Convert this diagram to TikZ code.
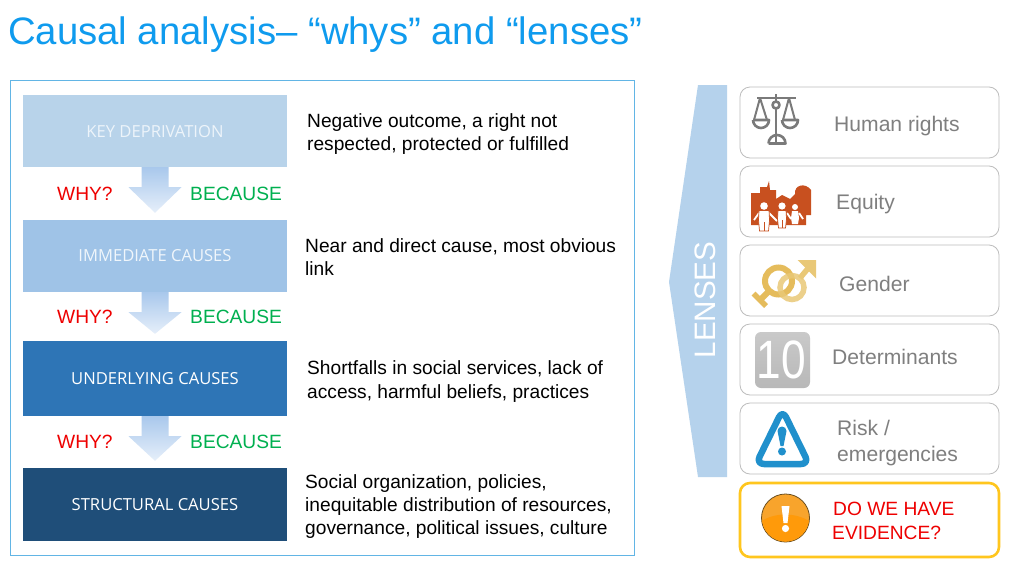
\documentclass[tikz,border=0pt]{standalone}
\usepackage{fontspec}
\setmainfont{Liberation Sans}
\newfontfamily\boxfont{Open Sans}
\usetikzlibrary{calc,shadings}
\definecolor{titleblue}{HTML}{0F9BEE}
\definecolor{framecol}{HTML}{62B5E5}
\definecolor{lensblue}{HTML}{B5D2EC}
\definecolor{cardline}{HTML}{BDBDBD}
\definecolor{greytext}{HTML}{7F7F7F}
\definecolor{whyred}{HTML}{EE0000}
\definecolor{becgreen}{HTML}{00B050}
\definecolor{scalegrey}{HTML}{7A7A7A}
\definecolor{equity}{HTML}{C8501F}
\definecolor{gold}{HTML}{E5BC5C}
\definecolor{goldlight}{HTML}{E9C877}
\definecolor{riskblue}{HTML}{2090CC}
\definecolor{arrowtop}{HTML}{A9C8EC}
\definecolor{arrowbot}{HTML}{E6EFFA}
\definecolor{boxa}{HTML}{B8D3EA}
\definecolor{boxb}{HTML}{9FC3E7}
\definecolor{boxc}{HTML}{2E75B6}
\definecolor{boxd}{HTML}{1F4E79}
\definecolor{boxatext}{HTML}{EDF4FA}
\definecolor{boxbtext}{HTML}{F0F6FB}
\definecolor{evidline}{HTML}{FFC61E}
\definecolor{tentop}{HTML}{C9C9C9}
\definecolor{tenbot}{HTML}{B8B8B8}
\definecolor{orangeline}{HTML}{6B4E1E}
\definecolor{orangetop}{HTML}{F8A42C}
\definecolor{orangebot}{HTML}{FF9A0A}
\tikzset{
  x=1pt,y=-1pt,
  causebox/.style={minimum width=264pt,inner sep=0pt,text=white,font=\boxfont\fontsize{16.6}{18}\selectfont},
  desc/.style={anchor=west,inner sep=0pt,align=left,text=black,font=\fontsize{19.15}{23.3}\selectfont},
  whylab/.style={anchor=base west,inner sep=0pt,text=whyred,font=\fontsize{19.2}{23}\selectfont},
  beclab/.style={anchor=base west,inner sep=0pt,text=becgreen,font=\fontsize{19.2}{23}\selectfont},
  card/.style={draw=cardline,line width=.8pt,rounded corners=10pt,fill=white,minimum width=259pt,minimum height=71pt,inner sep=0pt},
  lenstext/.style={anchor=west,inner sep=0pt,align=left,text=greytext,font=\fontsize{21.1}{26}\selectfont},
  scaleline/.style={draw=scalegrey,line width=2.6pt,line join=round},
  goldline/.style={draw=gold,line width=6pt},
  figure/.style={fill=white,draw=equity,line width=.7pt},
}
\newcommand{\blockarr}[2]{%
  \path[shade,top color=arrowtop,bottom color=arrowbot]
    ($(#1.south)+(-13.5,0)$) -- ($(#1.south)+(13.5,0)$) -- ($(#1.south)+(13.5,20)$)
    -- ($(#1.south)+(26.5,20)$) -- ($(#2.north)+(0,-7)$) -- ($(#1.south)+(-26.5,20)$)
    -- ($(#1.south)+(-13.5,20)$) -- cycle;}
\begin{document}
\begin{tikzpicture}
\useasboundingbox (0,0) rectangle (1024,576);
\fill[white] (0,0) rectangle (1024,576);
\node[anchor=base west,inner sep=0pt,text=titleblue,font=\fontsize{38.3}{40}\selectfont] (title) at (8,44) {Causal analysis– “whys” and “lenses”};
\node[draw=framecol,line width=1pt,minimum width=624pt,minimum height=475pt,inner sep=0pt] (frame) at (322,317.5) {};
% cause boxes
\node[causebox,fill=boxa,text=boxatext,minimum height=72pt,text depth=0pt] (key) at (155,131) {\raisebox{-1pt}{KEY DEPRIVATION}};
\node[causebox,fill=boxb,text=boxbtext,minimum height=72pt] (imm) at (155,256) {\raisebox{-1pt}{IMMEDIATE CAUSES}};
\node[causebox,fill=boxc,minimum height=75pt] (und) at (155,378.5) {\raisebox{-1pt}{UNDERLYING CAUSES}};
\node[causebox,fill=boxd,minimum height=73pt] (str) at (155,504.5) {\raisebox{-1pt}{STRUCTURAL CAUSES}};
\blockarr{key}{imm}
\blockarr{imm}{und}
\blockarr{und}{str}
% why / because
\node[whylab] (w1) at (57,200) {WHY?};
\node[beclab] (b1) at (190,200) {BECAUSE};
\node[whylab] (w2) at (57,323) {WHY?};
\node[beclab] (b2) at (190,323) {BECAUSE};
\node[whylab] (w3) at (57,448) {WHY?};
\node[beclab] (b3) at (190,448) {BECAUSE};
% descriptions
\node[desc] (d1) at (307,134) {Negative outcome, a right not\\respected, protected or fulfilled};
\node[desc] (d2) at (305,257) {Near and direct cause, most obvious\\link};
\node[desc] (d3) at (307,381.5) {Shortfalls in social services, lack of\\access, harmful beliefs, practices};
\node[desc] (d4) at (305,506.5) {Social organization, policies,\\inequitable distribution of resources,\\governance, political issues, culture};
% lenses arrow
\path[fill=lensblue] (698,85) -- (727,85) -- (727,477) -- (698,477) -- (669,282) -- cycle;
\node[rotate=90,inner sep=0pt,text=white,font=\fontsize{29.6}{32}\selectfont] (lenses) at (705.5,300) {LENSES};
% cards
\node[card] (c1) at (869.5,122.5) {};
\node[card] (c2) at (869.5,201.5) {};
\node[card] (c3) at (869.5,280.5) {};
\node[card] (c4) at (869.5,359.5) {};
\node[card] (c5) at (869.5,438.5) {};
\node[card,draw=evidline,line width=2.6pt,minimum height=74pt] (c6) at (869.5,520) {};
\node[lenstext] (t1) at (834,126) {Human rights};
\node[lenstext] (t2) at (836,204) {Equity};
\node[lenstext] (t3) at (839,284) {Gender};
\node[lenstext] (t4) at (832,357) {Determinants};
\node[lenstext] (t5) at (837,443) {Risk /\\emergencies};
\node[anchor=west,inner sep=0pt,align=left,text=whyred,font=\fontsize{19.2}{23.5}\selectfont] (t6) at (832,521) {\hspace*{1pt}DO WE HAVE\\EVIDENCE?};
% scales icon
\draw[scaleline] (757,98) -- (796,98);
\draw[scaleline] (776,94) -- (776,101.5);
\draw[scaleline] (776,108.5) -- (776,142);
\draw[scaleline] (776,105) circle (3.5);
\draw[scaleline,line width=2pt] (754,120) -- (760,98) -- (767,120);
\draw[scaleline,line width=2pt] (783,120) -- (789,98) -- (795,120);
\draw[scaleline] (753,120) -- (769,120) arc[start angle=0,end angle=180,radius=8];
\draw[scaleline] (782,120) -- (798,120) arc[start angle=0,end angle=180,radius=8];
\draw[scaleline] (768.5,143.5) -- (785.5,143.5) arc[start angle=0,end angle=-180,radius=8.5];
% equity icon
\fill[equity] (751,193) -- (760,193) -- (760,187) -- (767,187) -- (769,181) -- (770,190) -- (776,190) -- (776,199) -- (782,195) -- (790,199) -- (795,194) .. controls (794,185) and (805,182) .. (811,190) -- (811,215) -- (806,215) -- (806,225) -- (751,225) -- cycle;
\fill[white] (764,206) circle (3.8) (782,206) circle (3.6) (795,207) circle (3);
\draw[white,line width=1.8pt] (759,213) -- (754,220) (769,213) -- (777,221) (787,213) -- (791,219) (799,213) -- (803,219);
\path[figure] (759,210.5) -- (769,210.5) -- (769.5,220) -- (768.5,231) -- (759.5,231) -- (758.5,220) -- cycle;
\path[figure] (778,210.5) -- (786,210.5) -- (786.5,219) -- (785.5,228) -- (778.5,228) -- (777.5,219) -- cycle;
\path[figure,draw=none] (792,211) -- (798,211) -- (799,218) -- (798,224) -- (792,224) -- (791,218) -- cycle;
\draw[equity,line width=.9pt] (764,222) -- (764,231) (782,220) -- (782,228);
% gender icon
\draw[goldline] (778.5,281) circle (13.5);
\draw[goldline,line cap=butt] (769,291) -- (759,301);
\draw[goldline,line width=5.5pt] (753.5,293.5) -- (766,306);
\draw[goldline,draw=goldlight,opacity=.85,line width=5.5pt] (792,287.5) circle (12);
\draw[goldline,draw=goldlight,line width=5.5pt] (800,278) -- (810,266);
\fill[goldlight] (797.5,260) -- (816,260) -- (816,278.5) -- cycle;
% determinants icon
\node[inner sep=0pt,minimum width=55pt,minimum height=56pt,rounded corners=6pt,top color=tentop,bottom color=tenbot] (ten) at (782.5,360) {};
\node[inner sep=0pt,text=white,xscale=.82,font=\fontsize{54}{56}\selectfont] (tennum) at (781.5,360) {10};
% risk icon
\draw[riskblue,line width=6.5pt,line join=round,rounded corners=8pt] (782.5,410) -- (809,464) -- (756,464) -- cycle;
\fill[riskblue] (777.5,431) arc[start angle=180,end angle=360,radius=4.5] -- (783.5,446) -- (780.5,446) -- cycle;
\fill[riskblue] (782,451.5) circle (4);
% evidence icon
\draw[draw=orangeline,line width=.8pt,fill=orangetop] (785.5,518) circle (24);
\begin{scope}
\clip (785.5,518) circle (23.6);
\fill[orangebot] (760,522) .. controls (775,512) and (795,512) .. (811,522) -- (811,545) -- (760,545) -- cycle;
\end{scope}
\fill[white] (781.5,506) -- (789.5,506) -- (787.5,523) -- (783.5,523) -- cycle;
\fill[white] (785.5,528.5) circle (3.6);
\end{tikzpicture}
\end{document}
